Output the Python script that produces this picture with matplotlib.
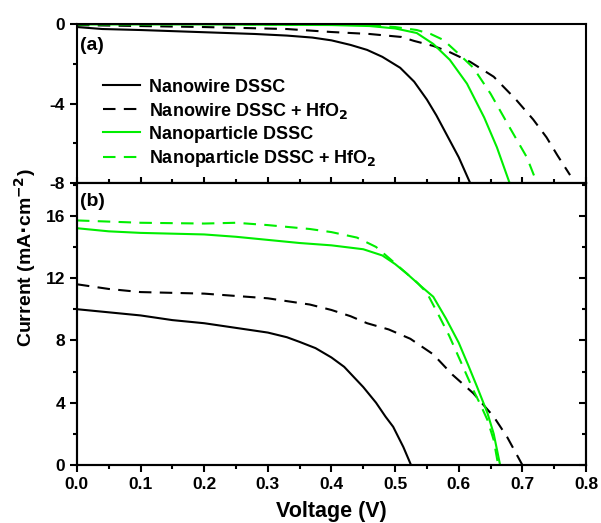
import matplotlib
matplotlib.use('Agg')
import matplotlib.pyplot as plt
from matplotlib.ticker import MultipleLocator

plt.rcParams['font.family'] = ['Liberation Sans', 'DejaVu Sans']
plt.rcParams['font.weight'] = 'bold'
plt.rcParams['mathtext.default'] = 'bf'
plt.rcParams['axes.unicode_minus'] = False

GREEN = '#00ee00'

# (a) dark current
nw_dark_v = [0.0, 0.04, 0.1, 0.19, 0.28, 0.33, 0.37, 0.40, 0.43, 0.456, 0.48, 0.508, 0.53, 0.55, 0.565, 0.58, 0.60, 0.618]
nw_dark_i = [-0.15, -0.25, -0.3, -0.4, -0.5, -0.58, -0.68, -0.82, -1.05, -1.3, -1.65, -2.2, -2.9, -3.8, -4.6, -5.5, -6.7, -8.0]
nwh_dark_v = [0.0, 0.1, 0.2, 0.33, 0.40, 0.46, 0.51, 0.53, 0.56, 0.585, 0.618, 0.655, 0.69, 0.717, 0.738, 0.755, 0.775]
nwh_dark_i = [-0.05, -0.1, -0.15, -0.25, -0.4, -0.5, -0.65, -0.85, -1.1, -1.4, -1.9, -2.65, -3.8, -4.8, -5.7, -6.6, -7.6]
np_dark_v = [0.0, 0.2, 0.4, 0.46, 0.50, 0.534, 0.56, 0.586, 0.613, 0.64, 0.66, 0.68]
np_dark_i = [-0.02, -0.02, -0.05, -0.1, -0.22, -0.45, -1.0, -1.8, -3.0, -4.7, -6.2, -8.0]
nph_dark_v = [0.0, 0.2, 0.45, 0.5, 0.534, 0.556, 0.576, 0.60, 0.623, 0.65, 0.68, 0.707, 0.723]
nph_dark_i = [0.0, 0.0, -0.05, -0.15, -0.3, -0.5, -0.8, -1.5, -2.2, -3.5, -5.2, -6.7, -8.0]

# (b) photocurrent
nw_v = [0.0, 0.05, 0.1, 0.15, 0.2, 0.25, 0.3, 0.33, 0.35, 0.375, 0.40, 0.42, 0.435, 0.45, 0.47, 0.485, 0.497, 0.513, 0.525]
nw_i = [10.0, 9.8, 9.6, 9.3, 9.1, 8.8, 8.5, 8.2, 7.9, 7.5, 6.9, 6.3, 5.65, 5.0, 4.0, 3.1, 2.45, 1.15, 0.0]
nwh_v = [0.0, 0.05, 0.1, 0.2, 0.3, 0.366, 0.40, 0.43, 0.456, 0.49, 0.524, 0.56, 0.59, 0.623, 0.655, 0.676, 0.70]
nwh_i = [11.6, 11.3, 11.1, 11.0, 10.7, 10.3, 9.95, 9.55, 9.1, 8.7, 8.1, 7.1, 5.8, 4.6, 3.1, 1.8, 0.0]
np_v = [0.0, 0.05, 0.1, 0.2, 0.25, 0.3, 0.35, 0.40, 0.45, 0.48, 0.50, 0.518, 0.54, 0.56, 0.58, 0.60, 0.615, 0.629, 0.645, 0.655, 0.665]
np_i = [15.2, 15.0, 14.9, 14.8, 14.65, 14.45, 14.25, 14.1, 13.85, 13.45, 12.9, 12.3, 11.5, 10.8, 9.4, 7.85, 6.4, 5.0, 3.35, 2.0, 0.0]
nph_v = [0.0, 0.1, 0.2, 0.25, 0.3, 0.366, 0.40, 0.44, 0.47, 0.49, 0.518, 0.535, 0.55, 0.57, 0.585, 0.597, 0.61, 0.623, 0.635, 0.645, 0.655, 0.662]
nph_i = [15.7, 15.55, 15.5, 15.55, 15.4, 15.15, 14.95, 14.6, 14.0, 13.3, 12.3, 11.7, 11.05, 9.5, 8.3, 7.2, 6.0, 4.8, 3.8, 2.9, 1.6, 0.0]

labels = ['Nanowire DSSC', 'Nanowire DSSC + HfO$_2$',
          'Nanoparticle DSSC', 'Nanoparticle DSSC + HfO$_2$']
colors = ['black', 'black', GREEN, GREEN]
styles = ['-', (0, (6, 4)), '-', (0, (6, 4))]

fig = plt.figure(figsize=(6.01, 5.23), dpi=100)
ax1 = fig.add_axes([0.128, 0.650, 0.847, 0.304])
ax2 = fig.add_axes([0.128, 0.111, 0.847, 0.539])

dark = [(nw_dark_v, nw_dark_i), (nwh_dark_v, nwh_dark_i), (np_dark_v, np_dark_i), (nph_dark_v, nph_dark_i)]
light = [(nw_v, nw_i), (nwh_v, nwh_i), (np_v, np_i), (nph_v, nph_i)]
for (v, i), c, s, lab in zip(dark, colors, styles, labels):
    ax1.plot(v, i, color=c, linestyle=s, lw=1.5, label=lab)
for (v, i), c, s in zip(light, colors, styles):
    ax2.plot(v, i, color=c, linestyle=s, lw=1.5)

for ax in (ax1, ax2):
    ax.set_xlim(0, 0.8)
    ax.xaxis.set_major_locator(MultipleLocator(0.1))
    ax.xaxis.set_minor_locator(MultipleLocator(0.05))
    ax.yaxis.set_major_locator(MultipleLocator(4))
    ax.yaxis.set_minor_locator(MultipleLocator(2))
    for sp in ax.spines.values():
        sp.set_linewidth(1.5)
    ax.tick_params(which='both', width=1.5, labelsize=12.5)
    ax.tick_params(which='major', length=5)
    ax.tick_params(which='minor', length=3)

ax1.set_ylim(-8, 0)
ax1.tick_params(axis='x', which='both', direction='inout', labelbottom=False)
ax1.tick_params(which='major', axis='x', length=9)
ax1.tick_params(which='minor', axis='x', length=6)

ax2.set_ylim(0, 18.1)
ax2.set_xticks([0, 0.1, 0.2, 0.3, 0.4, 0.5, 0.6, 0.7, 0.8])
ax2.set_xticklabels(['0.0', '0.1', '0.2', '0.3', '0.4', '0.5', '0.6', '0.7', '0.8'])

# inward ticks on the right spine of (b)
ax2r = ax2.twinx()
ax2r.set_ylim(ax2.get_ylim())
ax2r.yaxis.set_major_locator(MultipleLocator(4))
ax2r.yaxis.set_minor_locator(MultipleLocator(2))
ax2r.tick_params(which='both', direction='in', width=1.5, labelright=False)
ax2r.tick_params(which='major', length=5)
ax2r.tick_params(which='minor', length=3)
for sp in ax2r.spines.values():
    sp.set_linewidth(1.5)

ax1.text(0.006, 0.865, '(a)', transform=ax1.transAxes, fontsize=14, fontweight='bold', va='center')
ax2.text(0.006, 0.933, '(b)', transform=ax2.transAxes, fontsize=14, fontweight='bold', va='center')

leg = ax1.legend(loc='upper left', bbox_to_anchor=(0.045, 0.679), frameon=False,
                 fontsize=13, handlelength=2.0, labelspacing=0.28, handletextpad=0.55,
                 borderaxespad=0, borderpad=0.2)

ax2.set_xlabel('Voltage (V)', fontsize=15.5, fontweight='bold', labelpad=7)
fig.text(0.042, 0.507, 'Current (mA$\\cdot$cm$^{-2}$)', rotation=90, ha='center', va='center',
         fontsize=14, fontweight='bold')

fig.savefig('out.png', dpi=100)
